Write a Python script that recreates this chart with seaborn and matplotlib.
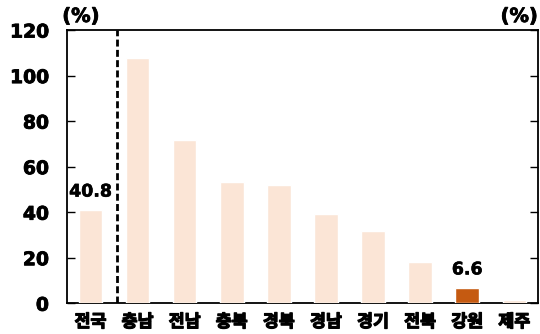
import matplotlib
matplotlib.use("Agg")
import matplotlib.pyplot as plt
import matplotlib.patheffects as pe
import seaborn as sns
import pandas as pd

regions = ["전국", "충남", "전남", "충북", "경북", "경남", "경기", "전북", "강원", "제주"]
values = [40.8, 107.7, 71.9, 53.3, 51.9, 39.3, 31.7, 18.2, 6.6, 1.3]
labeled = {"전국": "40.8", "강원": "6.6"}
highlight = "강원"
yticks = [0, 20, 40, 60, 80, 100, 120]

sns.set_theme(style="white")
plt.rcParams["font.family"] = ["Noto Sans CJK KR", "DejaVu Sans"]
plt.rcParams.update({"text.color": "black", "xtick.color": "black",
                     "ytick.color": "black", "axes.labelcolor": "black"})

df = pd.DataFrame({"region": regions, "value": values})
palette = {r: ("#C55A11" if r == highlight else "#FBE5D6") for r in regions}

fig, ax = plt.subplots(figsize=(5.4, 3.34), dpi=100)
fig.subplots_adjust(left=0.124, right=0.996, top=0.91, bottom=0.092)

sns.barplot(data=df, x="region", y="value", hue="region", palette=palette,
            width=0.5, saturation=1, legend=False, ax=ax, zorder=3)

ax.set_xlim(-0.5, len(regions) - 0.5)
ax.set_ylim(0, 120)
ax.set_yticks(yticks)
ax.set_xlabel("")
ax.set_ylabel("")

for s in ax.spines.values():
    s.set_color("black")
    s.set_linewidth(1.3)
    s.set_visible(True)

num_font = ["DejaVu Sans"]
thick = [pe.withStroke(linewidth=0.6, foreground="black")]
ax.tick_params(axis="y", direction="in", length=6, width=1, color="black",
               left=True, right=True, labelsize=13.5, pad=13)
ax.tick_params(axis="x", length=0, labelsize=12.5, pad=7)
for t in ax.get_yticklabels():
    t.set_fontweight("heavy")
    t.set_family(num_font)
    t.set_path_effects(thick)
for t in ax.get_xticklabels():
    t.set_fontweight("black")
    t.set_path_effects([pe.withStroke(linewidth=0.9, foreground="black")])

# divider between the national figure and the provinces
ax.axvline(0.57, color="black", linestyle=(0, (2.5, 1.2)), linewidth=2, zorder=4)

for i, r in enumerate(regions):
    if r in labeled:
        ax.text(i, values[i] + 4.3, labeled[r], ha="center", va="bottom",
                fontsize=12.5, fontweight="bold", family=num_font,
                path_effects=[pe.withStroke(linewidth=0.4, foreground="black")])

ax.text(-0.01, 1.015, "(%)", transform=ax.transAxes, ha="left", va="bottom",
        fontsize=14, fontweight="bold", family=num_font, path_effects=thick)
ax.text(1.0, 1.015, "(%)", transform=ax.transAxes, ha="right", va="bottom",
        fontsize=14, fontweight="bold", family=num_font, path_effects=thick)

fig.savefig("out.png", dpi=100)
